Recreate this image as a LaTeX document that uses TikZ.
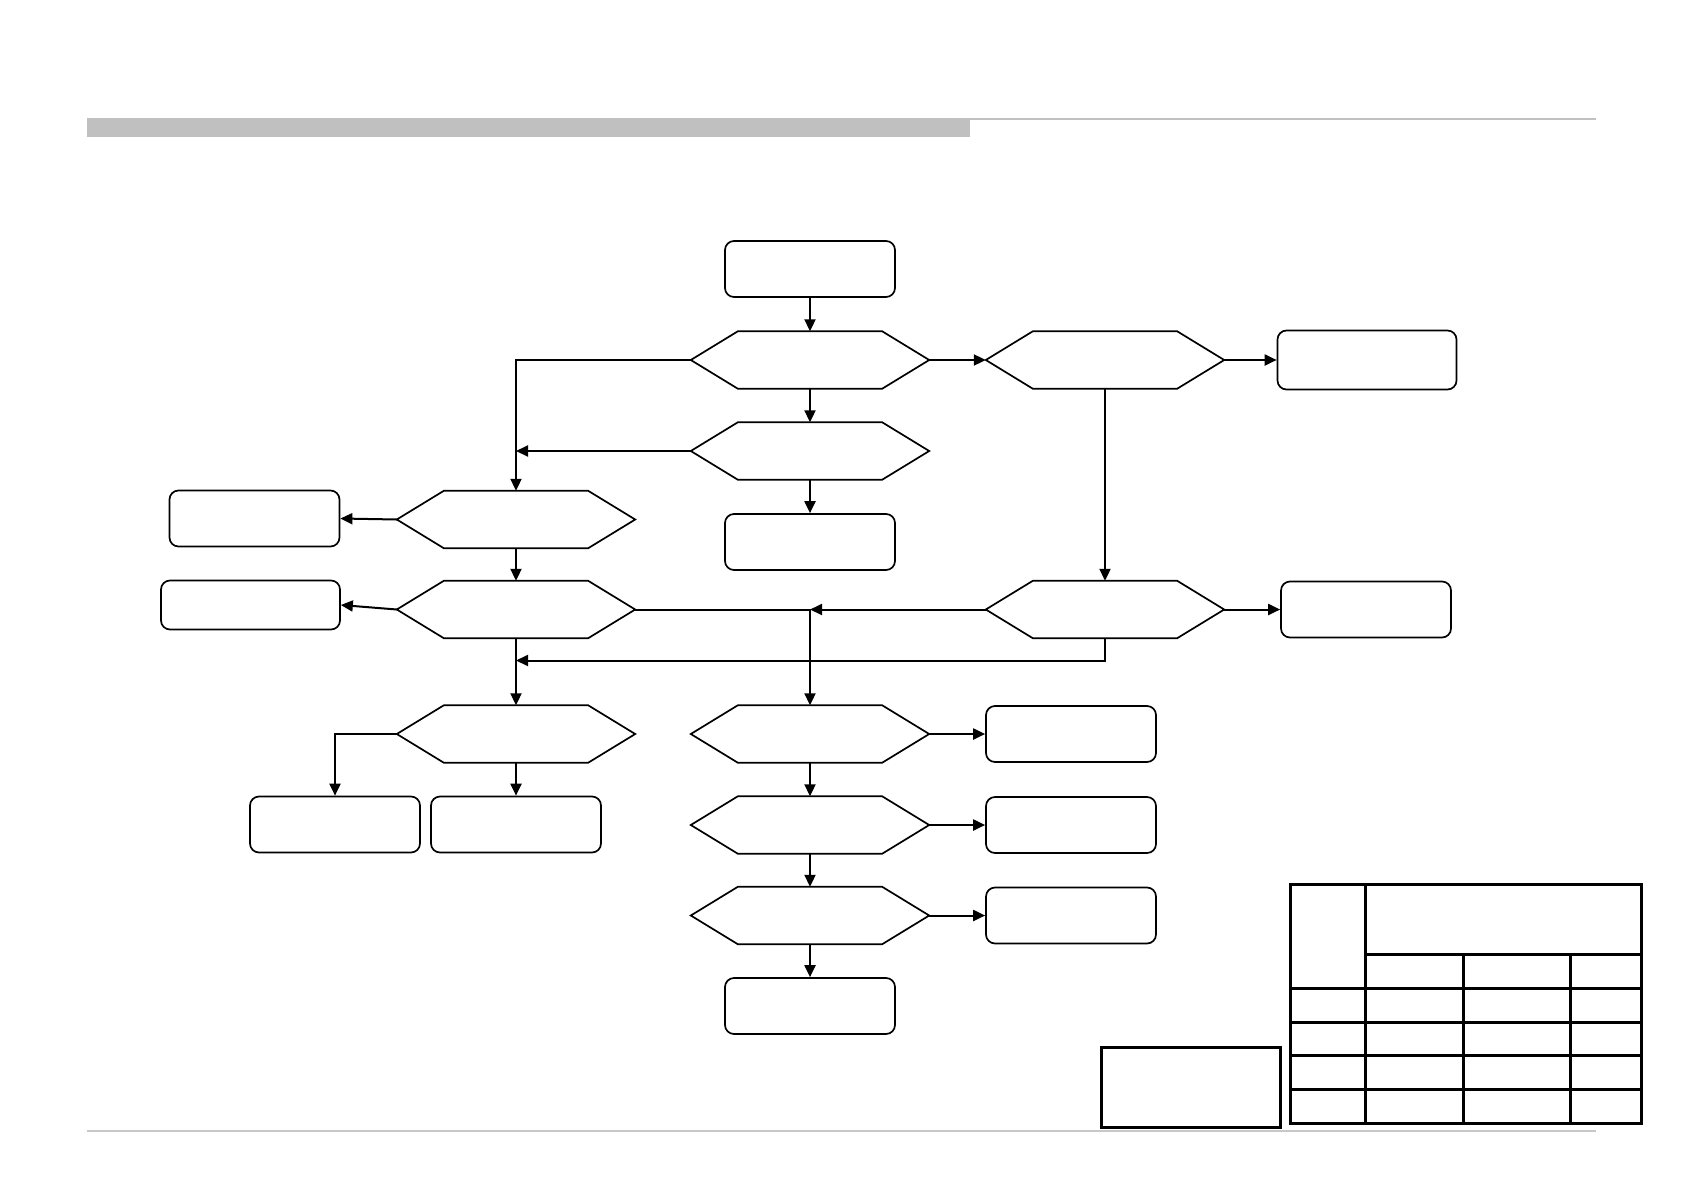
\documentclass[tikz,border=0pt]{standalone}
\usetikzlibrary{arrows.meta,calc}
\definecolor{hdr}{RGB}{192,192,192}
\definecolor{rule}{RGB}{200,200,200}
\begin{document}
\begin{tikzpicture}[x=1pt,y=-1pt,
  box/.style={draw, line width=1.7pt, rounded corners=9pt, minimum width=170pt, minimum height=56pt, inner sep=0pt},
  hex/.style={minimum width=238pt, minimum height=57pt, inner sep=0pt},
  hexline/.style={line width=1.7pt, line join=miter},
  conn/.style={line width=2pt, -{Triangle[length=12pt,width=11pt]}},
  tab/.style={line width=3pt}]
\useasboundingbox (0,0) rectangle (1683,1191);
\fill[white] (0,0) rectangle (1683,1191);
% header
\draw[hdr, line width=2pt] (87,119) -- (1596,119);
\fill[hdr] (87,118) rectangle (970,137);
\draw[rule, line width=1.5pt] (87,1131) -- (1596,1131);

% nodes
\node[box] (b0) at (810,269) {};
\node[hex] (h1) at (810,360) {};
\node[hex] (h2) at (1105,360) {};
\node[box, minimum width=179pt, minimum height=59pt] (r1) at (1367,360) {};
\node[hex] (h3) at (810,451) {};
\node[box] (c1) at (810,542) {};
\node[hex] (h4) at (516,519.5) {};
\node[box] (l1) at (254.5,518.5) {};
\node[hex] (h5) at (516,609.5) {};
\node[box, minimum width=179pt, minimum height=49pt] (l2) at (250.5,605) {};
\node[hex] (h6) at (1105,609.5) {};
\node[box] (r2) at (1366,609.5) {};
\node[hex] (h7) at (516,734) {};
\node[box] (ll1) at (335,824.5) {};
\node[box] (ll2) at (516,824.5) {};
\node[hex] (h8) at (810,734) {};
\node[box] (m1) at (1071,734) {};
\node[hex] (h9) at (810,825) {};
\node[box] (m2) at (1071,825) {};
\node[hex] (h10) at (810,915.5) {};
\node[box] (m3) at (1071,915.5) {};
\node[box] (e0) at (810,1006) {};

\foreach \n in {h1,h2,h3,h4,h5,h6,h7,h8,h9,h10}
  \draw[hexline] (\n.west) -- ($(\n.north west)+(47,0)$) -- ($(\n.north east)+(-47,0)$) -- (\n.east) -- ($(\n.south east)+(-47,0)$) -- ($(\n.south west)+(47,0)$) -- cycle;

% connectors
\draw[conn] (b0.south) -- (h1.north);
\draw[conn] (h1.east) -- (h2.west);
\draw[conn] (h2.east) -- (r1.west);
\draw[conn] (h1.south) -- (h3.north);
\draw[conn] (h1.west) -| (h4.north);
\draw[conn] (h3.west) -- (h4.north |- h3.west);
\draw[conn] (h3.south) -- (c1.north);
\draw[conn] (h4.west) -- (l1.east);
\draw[conn] (h4.south) -- (h5.north);
\draw[conn] (h5.west) -- (l2.east);
\draw[conn] (h5.east) -| (h8.north);
\draw[conn] (h6.west) -- (h8.north |- h6.west);
\draw[conn] (h2.south) -- (h6.north);
\draw[conn] (h6.east) -- (r2.west);
\coordinate (j1) at (516,660.5);
\draw[conn] (h6.south) |- (j1);
\draw[conn] (h5.south) -- (h7.north);
\draw[conn] (h7.west) -| (ll1.north);
\draw[conn] (h7.south) -- (ll2.north);
\draw[conn] (h8.east) -- (m1.west);
\draw[conn] (h8.south) -- (h9.north);
\draw[conn] (h9.east) -- (m2.west);
\draw[conn] (h9.south) -- (h10.north);
\draw[conn] (h10.east) -- (m3.west);
\draw[conn] (h10.south) -- (e0.north);

% small box
\draw[tab] (1101.5,1047) rectangle (1280,1127);
% table
\draw[tab] (1290,884.5) rectangle (1641.5,1123);
\draw[tab] (1365,884.5) -- (1365,1123);
\draw[tab] (1365,954) -- (1641.5,954);
\draw[tab] (1463.5,954) -- (1463.5,1123);
\draw[tab] (1570.5,954) -- (1570.5,1123);
\foreach \yy in {988,1022,1055.5,1089.5}
  \draw[tab] (1290,\yy) -- (1641.5,\yy);
\end{tikzpicture}
\end{document}
